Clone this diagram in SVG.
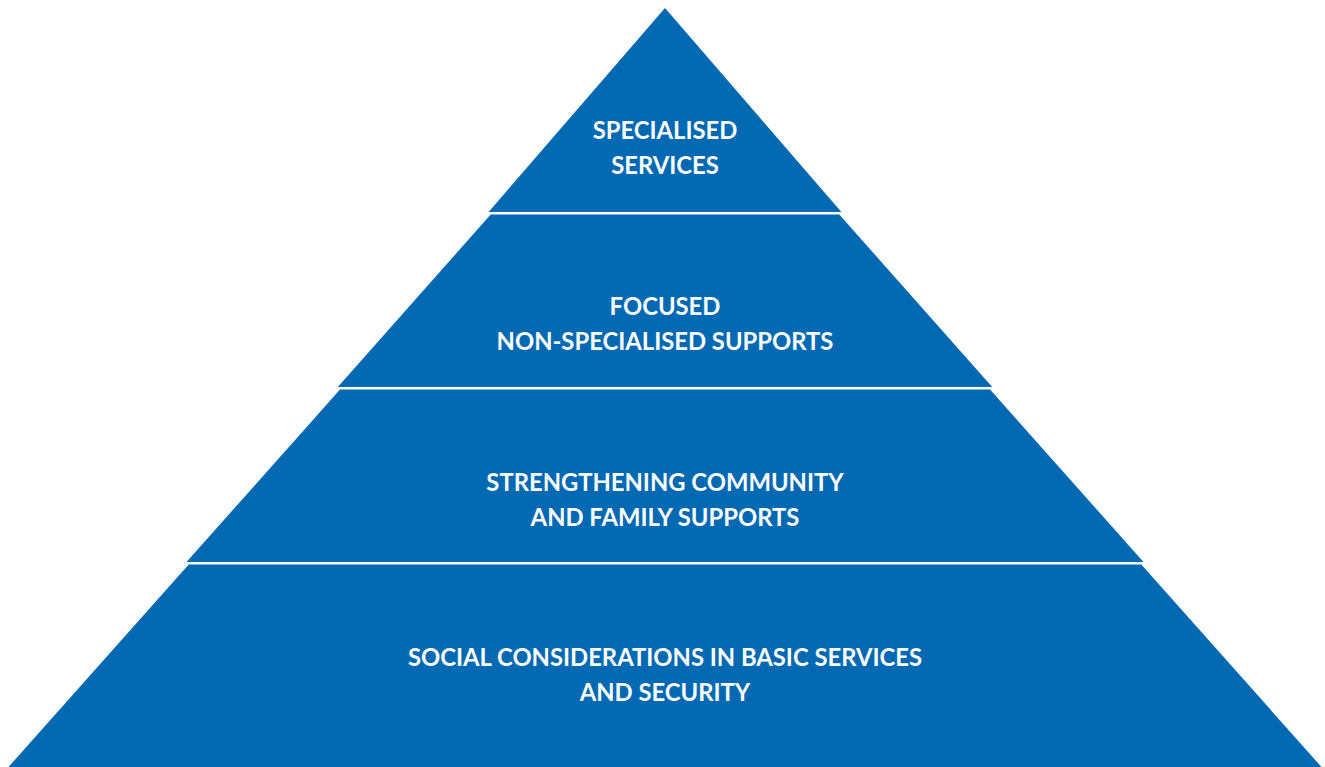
<svg xmlns="http://www.w3.org/2000/svg" width="1325" height="767" viewBox="0 0 1325 767">
<style>
.tier{fill:#0369B3;}
.lbl{font-family:Lato,"Liberation Sans",sans-serif;font-weight:bold;font-size:23.8px;fill:#ffffff;text-anchor:middle;}
</style>
<rect width="1325" height="767" fill="#ffffff"/>
<g id="tier-specialised">
<polygon class="tier" points="665,8 841.4,212 488.6,212"/>
<text class="lbl" x="665" y="138.5">SPECIALISED</text>
<text class="lbl" x="665" y="173.5">SERVICES</text>
</g>
<g id="tier-focused">
<polygon class="tier" points="490.7,214.5 839.3,214.5 992.2,387 337.8,387"/>
<text class="lbl" x="665" y="314.5">FOCUSED</text>
<text class="lbl" x="665" y="349.5">NON-SPECIALISED SUPPORTS</text>
</g>
<g id="tier-community">
<polygon class="tier" points="340,389.5 990,389.5 1143.5,562 186.5,562"/>
<text class="lbl" x="665" y="490.5">STRENGTHENING COMMUNITY</text>
<text class="lbl" x="665" y="525.5">AND FAMILY SUPPORTS</text>
</g>
<g id="tier-basic">
<polygon class="tier" points="188.7,564.5 1141.3,564.5 1321.5,767 8.5,767"/>
<text class="lbl" x="665" y="665.5">SOCIAL CONSIDERATIONS IN BASIC SERVICES</text>
<text class="lbl" x="665" y="700.5">AND SECURITY</text>
</g>
<g id="connectors"/>
</svg>
